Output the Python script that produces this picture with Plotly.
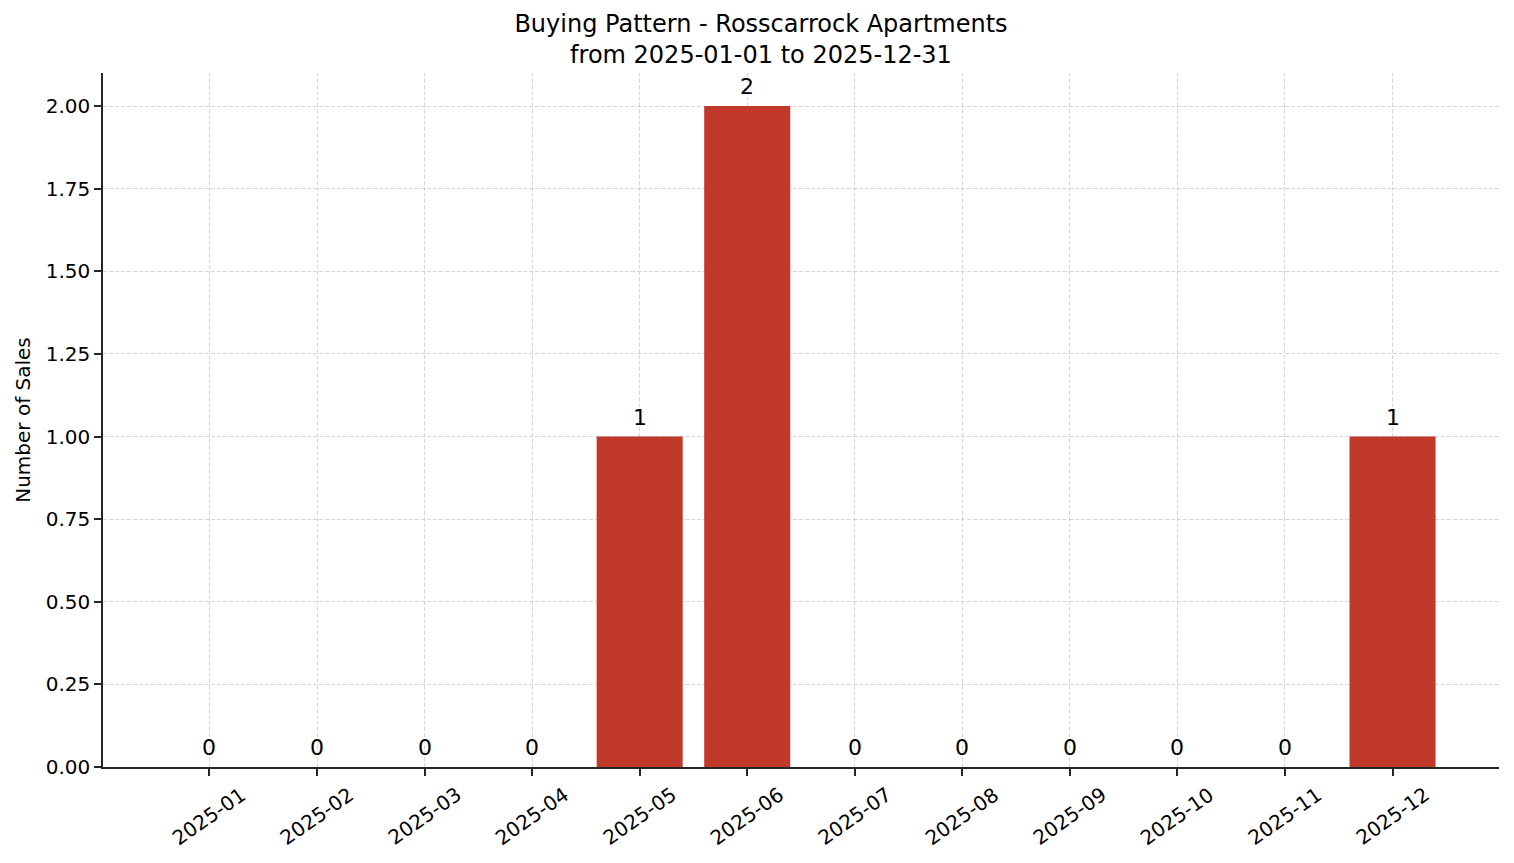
import plotly.graph_objects as go

months = ["2025-01", "2025-02", "2025-03", "2025-04", "2025-05", "2025-06",
          "2025-07", "2025-08", "2025-09", "2025-10", "2025-11", "2025-12"]
sales = [0, 0, 0, 0, 1, 2, 0, 0, 0, 0, 0, 1]
y_ticks = [0, 0.25, 0.5, 0.75, 1.0, 1.25, 1.5, 1.75, 2.0]
y_tick_labels = ["0.00", "0.25", "0.50", "0.75", "1.00", "1.25", "1.50", "1.75", "2.00"]

FONT = "DejaVu Sans"
AXIS_COLOR = "#262626"
GRID = "rgba(176,176,176,0.5)"

fig = go.Figure()
fig.add_trace(go.Bar(
    x=months, y=sales, width=0.8,
    marker=dict(color="#c0392b", line=dict(width=0)),
    hoverinfo="x+y",
))

annotations = []
# value labels above bars
for m, v in zip(months, sales):
    annotations.append(dict(
        x=m, y=v, xref="x", yref="y", text=str(v), showarrow=False,
        xanchor="center", yanchor="bottom", yshift=5,
        font=dict(family=FONT, size=22, color="black"),
    ))
# rotated category labels, centred under each tick
for m in months:
    annotations.append(dict(
        x=m, y=0, xref="x", yref="paper", text=m, showarrow=False,
        xanchor="center", yanchor="middle", yshift=-49, textangle=-35,
        font=dict(family=FONT, size=20, color="black"),
    ))

fig.update_layout(
    width=1506, height=855,
    paper_bgcolor="white", plot_bgcolor="white",
    margin=dict(l=95, r=15, t=65, b=96),
    showlegend=False,
    font=dict(family=FONT, size=20, color="black"),
    title=dict(
        text="Buying Pattern - Rosscarrock Apartments<br>from 2025-01-01 to 2025-12-31",
        x=0.5, xanchor="center", y=1 - 24 / 855, yanchor="middle",
        font=dict(family=FONT, size=24, color="black"),
    ),
    annotations=annotations,
)
fig.update_xaxes(
    type="category", range=[-0.99, 11.99],
    showticklabels=False,
    showline=True, linecolor=AXIS_COLOR, linewidth=1.6, mirror=False,
    ticks="outside", ticklen=7, tickcolor=AXIS_COLOR, tickwidth=1.6,
    showgrid=True, gridcolor=GRID, griddash="4px,2px", gridwidth=1,
    zeroline=False, layer="above traces",
)
fig.update_yaxes(
    range=[0, 2.1], tickvals=y_ticks, ticktext=y_tick_labels,
    tickfont=dict(family=FONT, size=20),
    showline=True, linecolor=AXIS_COLOR, linewidth=1.6,
    ticks="outside", ticklen=7, tickcolor=AXIS_COLOR, tickwidth=1.6,
    showgrid=True, gridcolor=GRID, griddash="4px,2px", gridwidth=1,
    zeroline=False, layer="above traces",
    title=dict(text="Number of Sales", font=dict(family=FONT, size=20), standoff=10),
)

fig.write_html("out.html")
